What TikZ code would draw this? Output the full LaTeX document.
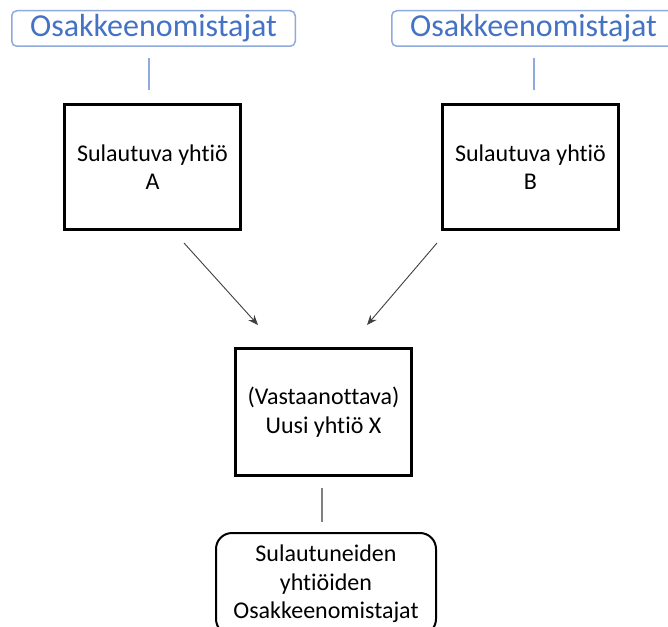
\documentclass[tikz,border=0pt]{standalone}
\usepackage{fontspec}
\setmainfont[Ligatures=NoCommon]{Carlito}
\usetikzlibrary{arrows.meta}
\definecolor{lblue}{HTML}{8FAADC}
\definecolor{tblue}{HTML}{4472C4}
\definecolor{arrgray}{HTML}{404040}
\definecolor{lgray}{HTML}{808080}
\begin{document}
\begin{tikzpicture}[x=1pt,y=-1pt,
  label/.style={draw=lblue, line width=1.5pt, rounded corners=5pt, text=tblue,
    minimum width=283.5pt, minimum height=35.5pt, inner sep=0pt,
    font=\fontsize{32}{36}\selectfont},
  firm/.style={draw=black, line width=3pt, minimum width=176pt, inner sep=0pt,
    align=center, font=\fontsize{24}{28.5}\selectfont},
  owners/.style={draw=black, line width=2pt, rounded corners=16pt,
    minimum width=220pt, minimum height=102pt, inner sep=0pt,
    align=center, font=\fontsize{24}{28.5}\selectfont},
  blueline/.style={draw=lblue, line width=1.2pt},
  grayline/.style={draw=lgray, line width=1.2pt},
  arr/.style={draw=arrgray, line width=0.9pt, -{Stealth[length=10pt,width=8pt]}}]
\useasboundingbox (0,0) rectangle (668,626);
\clip (0,0) rectangle (668,626);
\fill[white] (0,0) rectangle (668,626);

\node[label] (L1) at (153.5,28.5) {Osakkeenomistajat};
\node[label] (L2) at (533.5,28.5) {Osakkeenomistajat};

\node[firm, minimum height=125pt] (A) at (152.5,167) {Sulautuva yhtiö\\A};
\node[firm, minimum height=125pt] (B) at (530.5,167) {Sulautuva yhtiö\\B};
\node[firm, minimum height=127pt] (X) at (323.5,412) {(Vastaanottava)\\Uusi yhtiö X};
\node[owners] (O) at (326,584) {Sulautuneiden\\yhtiöiden\\Osakkeenomistajat};

\coordinate (l1a) at (149,58);
\coordinate (l1b) at (149,90);
\coordinate (l2a) at (534,58);
\coordinate (l2b) at (534,90);
\coordinate (aa) at (184,243);
\coordinate (ab) at (258,325);
\coordinate (ba) at (437,243);
\coordinate (bb) at (367,325);
\coordinate (xa) at (322,488);
\coordinate (xb) at (322,522);

\draw[blueline] (l1a) -- (l1b);
\draw[blueline] (l2a) -- (l2b);
\draw[arr] (aa) -- (ab);
\draw[arr] (ba) -- (bb);
\draw[grayline] (xa) -- (xb);
\end{tikzpicture}
\end{document}
